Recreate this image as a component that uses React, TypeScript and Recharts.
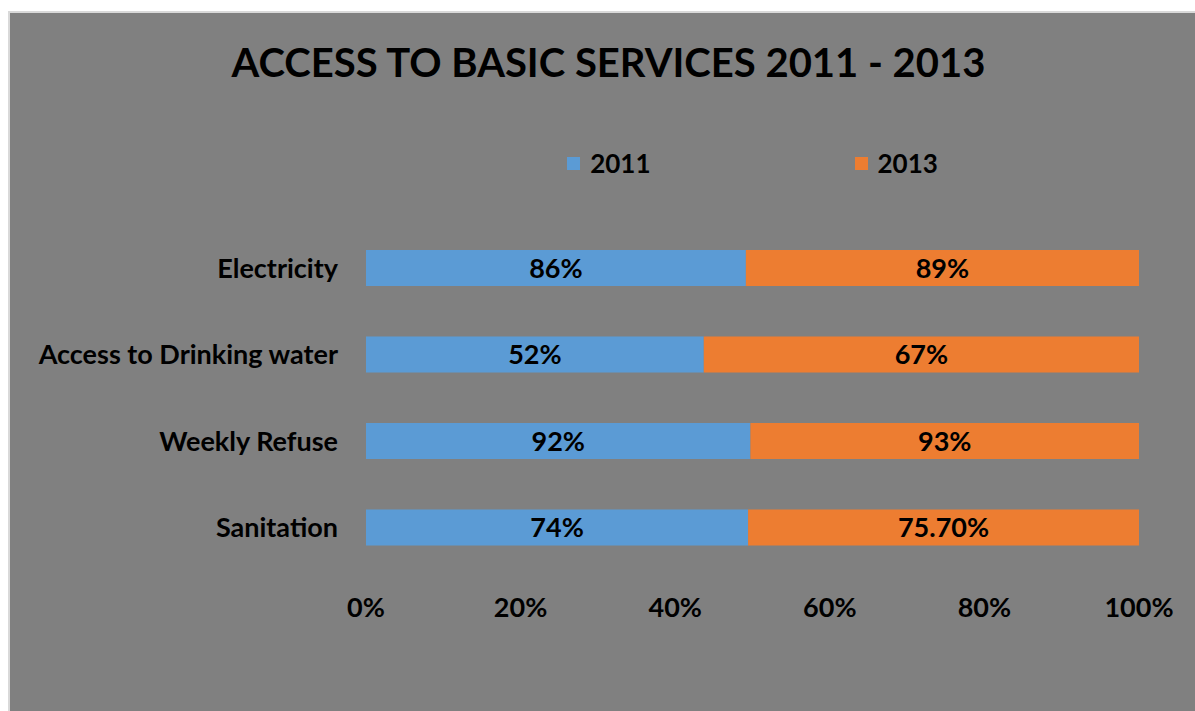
import { BarChart, Bar, XAxis, YAxis, Legend, LabelList } from "recharts"

const services = ["Electricity", "Access to Drinking water", "Weekly Refuse", "Sanitation"]
const values2011 = [86, 52, 92, 74]
const values2013 = [89, 67, 93, 75.7]
const xTicks = [0, 0.2, 0.4, 0.6, 0.8, 1]

const BLUE = "#5B9BD5"
const ORANGE = "#ED7D31"
const FONT = "Lato, 'Open Sans', sans-serif"

const chartData = services.map((name, i) => ({
  name,
  y2011: values2011[i],
  y2013: values2013[i],
}))

const pct = (v: number) => (Number.isInteger(v) ? `${v}%` : `${v.toFixed(2)}%`)

const textStyle = { fill: "#000", fontSize: 27, fontWeight: 700, fontFamily: FONT }

function LegendContent({ payload }: any) {
  return (
    <div style={{ display: "flex", justifyContent: "center", gap: 204, fontFamily: FONT }}>
      {(payload || []).map((entry: any) => (
        <div key={entry.value} style={{ display: "flex", alignItems: "center", gap: 10 }}>
          <span style={{ width: 13, height: 13, background: entry.color, display: "inline-block" }} />
          <span style={{ fontSize: 26, fontWeight: 700, color: "#000" }}>{entry.value}</span>
        </div>
      ))}
    </div>
  )
}

export default function App() {
  return (
    <div style={{ position: "absolute", left: 0, top: 0, width: 1195, height: 711, background: "#fff", overflow: "hidden" }}>
      <div style={{ position: "absolute", left: 8, top: 11, width: 1200, height: 710, background: "#D9D9D9" }} />
      <div style={{ position: "absolute", left: 10, top: 13, width: 1185, height: 698, background: "#808080" }}>
        <div
          style={{
            position: "absolute",
            left: 0,
            top: 25,
            width: 1185,
            paddingLeft: 12,
            boxSizing: "border-box",
            textAlign: "center",
            fontFamily: FONT,
            fontWeight: 700,
            fontSize: 40,
            color: "#000",
          }}
        >
          ACCESS TO BASIC SERVICES 2011 - 2013
        </div>
        <BarChart
          width={1185}
          height={698}
          data={chartData}
          layout="vertical"
          stackOffset="expand"
          margin={{ top: 180, right: 56, bottom: 80, left: 0 }}
        >
          <XAxis
            type="number"
            domain={[0, 1]}
            ticks={xTicks}
            tickFormatter={(v: number) => `${Math.round(v * 100)}%`}
            axisLine={false}
            tickLine={false}
            tickSize={0}
            tickMargin={27}
            height={60}
            tick={textStyle}
          />
          <YAxis
            type="category"
            dataKey="name"
            width={356}
            axisLine={false}
            tickLine={false}
            tickSize={0}
            tickMargin={28}
            tick={textStyle}
          />
          <Legend
            verticalAlign="top"
            content={<LegendContent />}
            wrapperStyle={{ top: 134, left: 356, width: 773 }}
          />
          <Bar dataKey="y2011" name="2011" stackId="a" fill={BLUE} barSize={36} isAnimationActive={false}>
            <LabelList dataKey="y2011" position="center" formatter={(v: number) => pct(v)} style={textStyle} />
          </Bar>
          <Bar dataKey="y2013" name="2013" stackId="a" fill={ORANGE} barSize={36} isAnimationActive={false}>
            <LabelList dataKey="y2013" position="center" formatter={(v: number) => pct(v)} style={textStyle} />
          </Bar>
        </BarChart>
      </div>
    </div>
  )
}
